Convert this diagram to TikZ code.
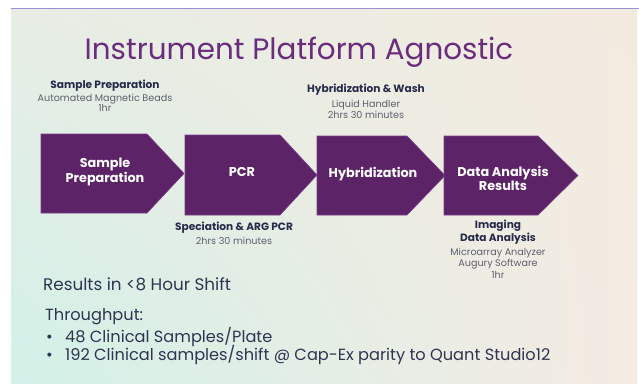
\documentclass[tikz,border=0pt]{standalone}
\usepackage{fontspec}
\setmainfont{Poppins}
\usetikzlibrary{shadings}
\definecolor{chevfill}{HTML}{5C2367}
\definecolor{chevline}{HTML}{7B3B8A}
\definecolor{titlecol}{HTML}{6A2C7C}
\definecolor{navy}{HTML}{262B4A}
\definecolor{subgray}{HTML}{5E5F6E}
\definecolor{bodytext}{HTML}{2F3550}
\definecolor{topline}{HTML}{9A90D8}
\definecolor{bgUL}{HTML}{E7EDE5}
\definecolor{bgLL}{HTML}{D2F1E8}
\definecolor{bgUR}{HTML}{F4EBE0}
\definecolor{bgLR}{HTML}{F5EBE3}
\tikzset{
  chev/.style={fill=chevfill, draw=chevline, line width=0.6pt},
  chevtext/.style={text=white, font=\bfseries\fontsize{12.8}{15}\selectfont, align=center, inner sep=0},
  annohead/.style={text=navy, font=\bfseries\fontsize{10.6}{12.5}\selectfont, align=center, inner sep=0},
  annosub/.style={text=subgray, font=\fontsize{9.6}{11}\selectfont, align=center, inner sep=0},
  body/.style={text=bodytext, font=\fontsize{16.2}{18}\selectfont, anchor=base west, inner sep=0},
}
\begin{document}
\begin{tikzpicture}[x=1pt,y=-1pt]
\useasboundingbox (0,0) rectangle (639,383);
\fill[white] (0,0) rectangle (639,383);
\shade[upper left=bgUL, lower left=bgLL, upper right=bgUR, lower right=bgLR] (11,9) rectangle (637,383);
\draw[topline, line width=1.4pt] (11,8.3) -- (639,8.3);

\node[text=titlecol, font=\fontsize{29.4}{32}\selectfont, inner sep=0, anchor=base] (title) at (299,59) {Instrument Platform Agnostic};

% chevrons
\path[chev] (41,134) -- (147,134) -- (184,173.5) -- (147,213) -- (41,213) -- cycle;
\path[chev] (185,135) -- (280,135) -- (317,175) -- (280,215) -- (185,215) -- cycle;
\path[chev] (317,136) -- (407,136) -- (445,175.5) -- (407,215) -- (317,215) -- cycle;
\path[chev] (444,136) -- (538,136) -- (578,175.5) -- (538,215) -- (444,215) -- cycle;

\node[chevtext] (c1) at (105,171.5) {Sample\\Preparation};
\node[chevtext] (c2) at (242,172) {PCR};
\node[chevtext] (c3) at (373,174) {Hybridization};
\node[chevtext, font=\bfseries\fontsize{12.8}{14}\selectfont] (c4) at (503,178) {Data Analysis\\Results};

% annotations
\node[annohead] (a1h) at (105,86) {Sample Preparation};
\node[annosub, font=\fontsize{9.6}{10.5}\selectfont] (a1s) at (105,103) {Automated Magnetic Beads\\1hr};
\node[annohead] (a2h) at (366,90) {Hybridization \& Wash};
\node[annosub] (a2s) at (366,109.5) {Liquid Handler\\2hrs 30 minutes};
\node[annohead] (a3h) at (234,228) {Speciation \& ARG PCR};
\node[annosub] (a3s) at (234,241) {2hrs 30 minutes};
\node[annohead] (a4h) at (498,232) {Imaging\\Data Analysis};
\node[annosub, font=\fontsize{9.6}{11.5}\selectfont] (a4s) at (498,263) {Microarray Analyzer\\Augury Software\\1hr};

% body text
\node[body, font=\fontsize{16.8}{18}\selectfont] (res) at (43,290) {Results in <8 Hour Shift};
\node[body] (thr) at (45,320) {Throughput:};
\node[body] (b1) at (46,342) {•};
\node[body] (t1) at (65,342) {48 Clinical Samples/Plate};
\node[body] (b2) at (46,360) {•};
\node[body] (t2) at (65,360) {192 Clinical samples/shift @ Cap-Ex parity to Quant Studio12};
\end{tikzpicture}
\end{document}
